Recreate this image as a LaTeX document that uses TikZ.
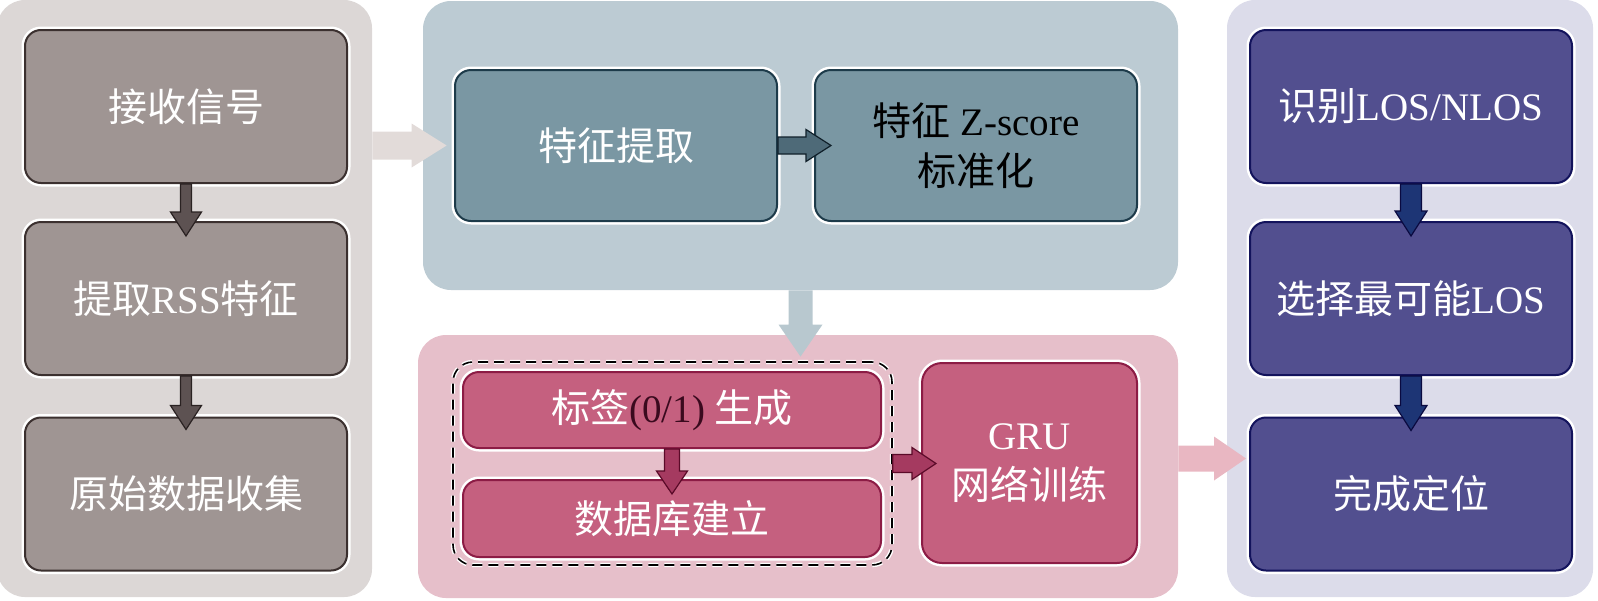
\documentclass[tikz,border=0pt]{standalone}
\usepackage{fontspec}
\setmainfont{Liberation Serif}
\newfontfamily\cjk{Noto Sans CJK SC}
\usetikzlibrary{calc}
\definecolor{gpanel}{HTML}{DCD7D6}
\definecolor{gfill}{HTML}{9F9593}
\definecolor{gline}{HTML}{3B302F}
\definecolor{garr}{HTML}{5D5252}
\definecolor{garrl}{HTML}{2A2222}
\definecolor{gbig}{HTML}{E2DBD9}
\definecolor{bpanel}{HTML}{BCCBD3}
\definecolor{bfill}{HTML}{7A97A3}
\definecolor{bline}{HTML}{1D3B4A}
\definecolor{barr}{HTML}{4E6A78}
\definecolor{barrl}{HTML}{10202A}
\definecolor{bbig}{HTML}{B8C8CF}
\definecolor{ppanel}{HTML}{E6BFCA}
\definecolor{pfill}{HTML}{C5607F}
\definecolor{pline}{HTML}{8C1C45}
\definecolor{parr}{HTML}{A53A60}
\definecolor{parrl}{HTML}{5A0A28}
\definecolor{pbig}{HTML}{E9B7C2}
\definecolor{pdark}{HTML}{3A0A1E}
\definecolor{npanel}{HTML}{DCDCEA}
\definecolor{nfill}{HTML}{524F8F}
\definecolor{nline}{HTML}{13135C}
\definecolor{narr}{HTML}{1D3575}
\definecolor{narrl}{HTML}{0A0A40}
\newcommand\zh[1]{{\cjk #1}}
% down block arrow: style, from, to, shaft half, head half, head length
\newcommand\blkdown[6]{\path[#1] let \p1=(#2), \p2=(#3) in
  (\x1-#4,\y1) -- (\x1-#4,\y2+#6) -- (\x1-#5,\y2+#6) -- (\x1,\y2) --
  (\x1+#5,\y2+#6) -- (\x1+#4,\y2+#6) -- (\x1+#4,\y1) -- cycle;}
\newcommand\blkright[6]{\path[#1] let \p1=(#2), \p2=(#3) in
  (\x1,\y1-#4) -- (\x2-#6,\y1-#4) -- (\x2-#6,\y1-#5) -- (\x2,\y1) --
  (\x2-#6,\y1+#5) -- (\x2-#6,\y1+#4) -- (\x1,\y1+#4) -- cycle;}
\begin{document}
\begin{tikzpicture}[x=0.5pt,y=-0.5pt,
  panel/.style={rectangle, rounded corners=14pt, inner sep=0pt, draw=none},
  box/.style={rectangle, rounded corners=8pt, line width=1pt,
    preaction={draw=white, line width=3.5pt}, text=white, align=center,
    font=\fontsize{19.5}{25}\selectfont, inner sep=0pt},
  gbox/.style={box, fill=gfill, draw=gline, minimum width=161pt, minimum height=76.5pt},
  bbox/.style={box, fill=bfill, draw=bline, minimum width=161pt, minimum height=75.5pt},
  pbox/.style={box, fill=pfill, draw=pline},
  nbox/.style={box, fill=nfill, draw=nline, minimum width=161pt, minimum height=76.5pt},
  garrow/.style={fill=garr, draw=garrl, line width=0.6pt},
  barrow/.style={fill=barr, draw=barrl, line width=0.6pt},
  parrow/.style={fill=parr, draw=parrl, line width=0.6pt},
  narrow/.style={fill=narr, draw=narrl, line width=0.6pt}]
\useasboundingbox (0,0) rectangle (1598,600);
% panels
\node[panel, fill=gpanel, minimum width=187.5pt, minimum height=298.5pt] (P1) at (184.5,298.5) {};
\node[panel, fill=bpanel, minimum width=377.5pt, minimum height=144.5pt] (P2) at (800.5,145.5) {};
\node[panel, fill=ppanel, minimum width=380pt, minimum height=131.5pt] (P3) at (798,466.5) {};
\node[panel, fill=npanel, minimum width=183pt, minimum height=298.5pt] (P4) at (1410,298.5) {};
% left column
\node[gbox] (L1) at (186,106.5) {\zh{接收信号}};
\node[gbox] (L2) at (186,298.5) {\zh{提取}RSS\zh{特征}};
\node[gbox] (L3) at (186,494) {\zh{原始数据收集}};
% top middle
\node[bbox] (T1) at (616,145.5) {\zh{特征提取}};
\node[bbox, text=black] (T2) at (976,145.5) {\zh{特征} Z-score\\\zh{标准化}};
% bottom middle
\node[rectangle, rounded corners=10pt, minimum width=219.5pt, minimum height=101.5pt,
  preaction={draw=white, line width=2.2pt}, draw=black, dashed, line width=0.8pt,
  dash pattern=on 5pt off 3pt] (D) at (672.5,463.5) {};
\node[pbox, minimum width=209pt, minimum height=38pt] (B1) at (672,410) {\zh{标签}\textcolor{pdark}{(0/1)} \zh{生成}};
\node[pbox, minimum width=209pt, minimum height=38.5pt] (B2) at (672,518.5) {\zh{数据库建立}};
\node[pbox, rounded corners=10pt, minimum width=107.5pt, minimum height=100pt] (G) at (1029.5,463) {GRU\\\zh{网络训练}};
% right column
\node[nbox] (R1) at (1411,106.5) {\zh{识别}LOS/NLOS};
\node[nbox] (R2) at (1411,298.5) {\zh{选择最可能}LOS};
\node[nbox] (R3) at (1411,494) {\zh{完成定位}};
% big arrows between panels
\blkright{fill=gbig}{P1.east |- T1.west}{$(P2.west |- T1.west)+(24,0)$}{7pt}{11pt}{17.5pt}
\blkdown{fill=bbig}{P2.south}{$(P3.north)+(0,22)$}{6pt}{11pt}{16pt}
\blkright{fill=pbig}{$(P3.east)+(0,-8)$}{$(R3.west)+(-3,0)$}{6.5pt}{11pt}{16pt}
% small arrows
\blkdown{garrow}{L1.south}{$(L2.north)+(0,15)$}{2.75pt}{7.75pt}{12pt}
\blkdown{garrow}{L2.south}{$(L3.north)+(0,13)$}{2.75pt}{7.75pt}{12pt}
\blkright{barrow}{T1.east}{$(T2.west)+(17,0)$}{4.25pt}{8pt}{12.5pt}
\blkdown{parrow}{B1.south}{$(B2.north)+(0,15)$}{3.75pt}{7.75pt}{11.5pt}
\blkright{parrow}{D.east}{$(G.west)+(15,0)$}{4.5pt}{8pt}{12pt}
\blkdown{narrow}{R1.south}{$(R2.north)+(0,15)$}{5.25pt}{8pt}{12.5pt}
\blkdown{narrow}{R2.south}{$(R3.north)+(0,14)$}{5.25pt}{8pt}{12.5pt}
\end{tikzpicture}
\end{document}
